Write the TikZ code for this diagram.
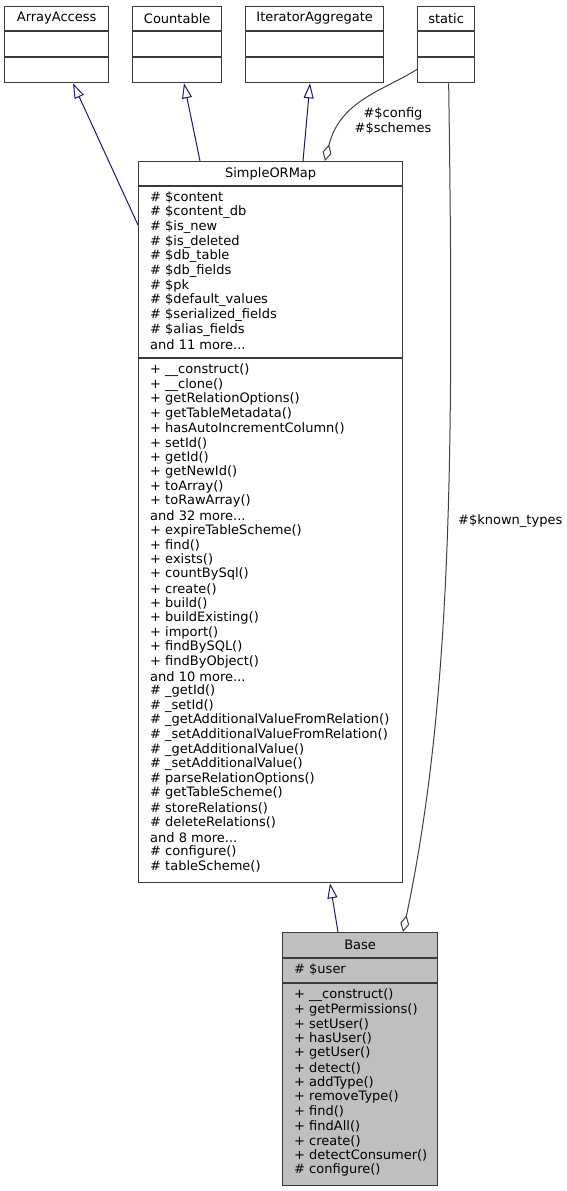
\documentclass[tikz,border=0pt]{standalone}
\usepackage{fontspec}
\setmainfont{DejaVu Sans}
\usetikzlibrary{arrows.meta,calc}
\definecolor{edgeblue}{HTML}{191970}
\definecolor{edgegrey}{HTML}{404040}
\definecolor{boxline}{HTML}{3A3A3A}
\definecolor{basefill}{HTML}{BFBFBF}
\newcommand{\moredots}{...}
\tikzset{
  classbox/.style={draw=boxline, line width=1.3pt, inner sep=0pt, anchor=north west},
  classname/.style={inner sep=0pt, font=\fontsize{13}{14.6}\selectfont},
  member/.style={anchor=west, inner sep=0pt, font=\fontsize{13}{14.6}\selectfont},
  inherit/.style={edgeblue, line width=1pt, -{Triangle[open,length=15pt,width=10pt]}},
  usage/.style={edgegrey, line width=1pt, -{Diamond[open,length=17pt,width=9pt]}},
}

\begin{document}
\begin{tikzpicture}[x=1pt,y=-1pt]
  \useasboundingbox (0,0) rectangle (567,1191);
  % interfaces on top row
  \foreach \n/\x/\w/\t in {arrayaccess/4/104/ArrayAccess, countable/132/89/Countable,
      iteratoragg/245/138/IteratorAggregate, static/417/57/static} {
    \node[classbox, minimum width=\w pt, minimum height=76pt] (\n) at (\x,6) {};
    \node[classname] (\n-name) at ($(\n.north)+(0,12.5)$) {\t};
    \draw[boxline, line width=1.3pt] ($(\n.north west)+(0,25)$) -- ($(\n.north east)+(0,25)$)
      ($(\n.north west)+(0,51)$) -- ($(\n.north east)+(0,51)$);
  }
  % SimpleORMap
  \node[classbox, minimum width=264pt, minimum height=721pt] (sorm) at (138,161) {};
  \node[classname] (sorm-name) at ($(sorm.north)+(0,12.5)$) {SimpleORMap};
  \draw[boxline, line width=1.3pt] (138,186) -- (402,186) (138,358) -- (402,358);
  \foreach \t [count=\i from 0] in {\# \$content, \# \$content\_db, \# \$is\_new,
      \# \$is\_deleted, \# \$db\_table, \# \$db\_fields, \# \$pk, \# \$default\_values,
      \# \$serialized\_fields, \# \$alias\_fields, and 11 more\moredots} {
    \node[member] at (150,{197.5+14.7*\i}) {\t};
  }
  \foreach \t [count=\i from 0] in {+ \_\_construct(), + \_\_clone(), + getRelationOptions(),
      + getTableMetadata(), + hasAutoIncrementColumn(), + setId(), + getId(), + getNewId(),
      + toArray(), + toRawArray(), and 32 more\moredots, + expireTableScheme(), + find(),
      + exists(), + countBySql(), + create(), + build(), + buildExisting(), + import(),
      + findBySQL(), + findByObject(), and 10 more\moredots, \# \_getId(), \# \_setId(),
      \# \_getAdditionalValueFromRelation(), \# \_setAdditionalValueFromRelation(),
      \# \_getAdditionalValue(), \# \_setAdditionalValue(), \# parseRelationOptions(),
      \# getTableScheme(), \# storeRelations(), \# deleteRelations(), and 8 more\moredots,
      \# configure(), \# tableScheme()} {
    \node[member] at (150,{370+14.6*\i}) {\t};
  }
  % Base
  \node[classbox, fill=basefill, minimum width=155pt, minimum height=253pt] (base) at (282,932) {};
  \node[classname] (base-name) at ($(base.north)+(0,13)$) {Base};
  \draw[boxline, line width=1.3pt] (282,958) -- (437,958) (282,983) -- (437,983);
  \node[member] (base-user) at (294,970) {\# \$user};
  \foreach \t [count=\i from 0] in {+ \_\_construct(), + getPermissions(), + setUser(),
      + hasUser(), + getUser(), + detect(), + addType(), + removeType(), + find(),
      + findAll(), + create(), + detectConsumer(), \# configure()} {
    \node[member] at (294,{995+14.6*\i}) {\t};
  }
  % inheritance
  \draw[inherit] ($(sorm.north west)+(0,64)$) -- ($(arrayaccess.south west)+(69,0)$);
  \draw[inherit] ($(sorm.north west)+(62,0)$) -- ($(countable.south west)+(52,0)$);
  \draw[inherit] ($(sorm.north west)+(165,0)$) -- ($(iteratoragg.south west)+(65,0)$);
  \draw[inherit] ($(base.north west)+(56,0)$) -- ($(sorm.south west)+(192,0)$);
  % usage
  \draw[usage] ($(static.south west)+(0,-14)$) .. controls (385,90) and (340,100) .. ($(sorm.north west)+(187,0)$);
  \node[classname, align=center] (cfg-label) at (393,121) {\#\$config\\\#\$schemes};
  \draw[usage] ($(static.south)+(2.5,0)$) .. controls (454,450) and (452,700) .. ($(base.north west)+(121,0)$);
  \node[member] (types-label) at (458,521) {\#\$known\_types};
\end{tikzpicture}
\end{document}
